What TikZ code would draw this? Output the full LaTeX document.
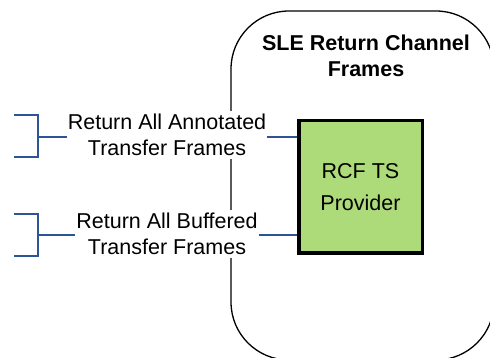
\documentclass[tikz,border=0pt]{standalone}
\usepackage{fontspec}
\setmainfont{Liberation Sans}
\definecolor{boxgreen}{HTML}{AEDB7A}
\definecolor{linkblue}{HTML}{2B5594}
\begin{document}
\begin{tikzpicture}[x=1pt,y=-1pt,
  outline/.style={draw=black,line width=1.3pt,rounded corners=58pt},
  link/.style={draw=linkblue,line width=1.5pt},
  lbl/.style={fill=white,align=center,inner xsep=1pt,inner ysep=3pt,
    font=\fontsize{21.5}{26}\selectfont},
  provider/.style={draw=black,fill=boxgreen,line width=3.5pt,
    minimum width=123.5pt,minimum height=132.5pt,align=center,
    font=\fontsize{21.5}{32}\selectfont},
  title/.style={align=center,font=\bfseries\fontsize{21.5}{26}\selectfont}]
\useasboundingbox (0,0) rectangle (490,358);
\clip (0,0) rectangle (490,358);
% outer rounded area
\draw[outline] (231,11) rectangle (494,360);
\node[title] (title) at (366,56) {SLE Return Channel\\Frames};
% provider box
\node[provider] (box) at (360.5,187) {RCF TS\\Provider};
% brackets
\coordinate (b1) at (38,137);
\coordinate (b2) at (38,235);
\draw[link] (14,115) -- (38,115) -- (38,157) -- (14,157);
\draw[link] (14,214) -- (38,214) -- (38,256) -- (14,256);
\draw[link] (b1) -- (b1 -| box.west);
\draw[link] (b2) -- (b2 -| box.west);
\node[lbl] (l1) at (167,135) {Return All Annotated\\Transfer Frames};
\node[lbl] (l2) at (167,234) {Return All Buffered\\Transfer Frames};
\end{tikzpicture}
\end{document}
